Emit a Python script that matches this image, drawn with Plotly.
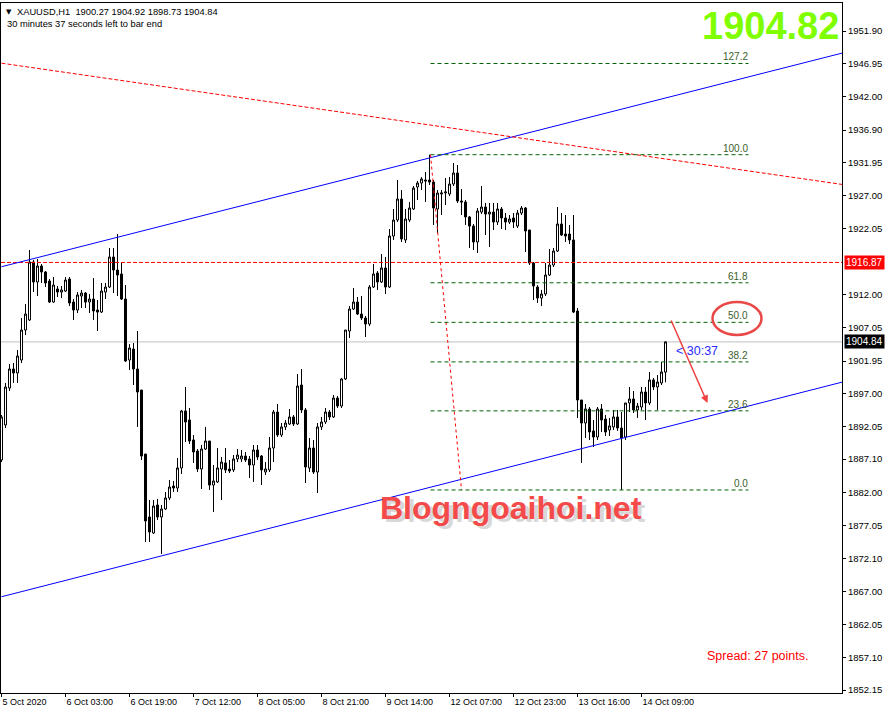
import plotly.graph_objects as go

# XAUUSD H1 bars, one slot per bar as the terminal lays them out (no weekend gap)
opens = [
    1886.97, 1892.27, 1897.87, 1900.74, 1900.14, 1902.10, 1906.64, 1908.16, 1916.93, 1913.91,
    1916.33, 1915.42, 1914.06, 1910.88, 1912.85, 1912.39, 1912.54, 1914.36, 1910.88, 1909.67,
    1911.79, 1912.24, 1910.88, 1911.33, 1909.67, 1909.36, 1912.39, 1913.15, 1917.69, 1915.72,
    1915.12, 1911.33, 1902.10, 1903.77, 1900.74, 1897.56, 1887.87, 1878.34, 1875.92, 1880.15,
    1878.34, 1879.55, 1881.22, 1883.03, 1882.73, 1885.76, 1894.39, 1893.02, 1890.00, 1888.33,
    1885.61, 1888.63, 1889.84, 1883.18, 1883.64, 1885.61, 1886.52, 1885.61, 1885.46, 1887.12,
    1887.12, 1887.57, 1887.12, 1886.21, 1888.48, 1887.57, 1885.15, 1885.46, 1888.78, 1894.23,
    1890.75, 1891.97, 1892.42, 1893.48, 1892.42, 1898.32, 1894.54, 1885.76, 1888.78, 1885.15,
    1891.97, 1892.72, 1894.23, 1893.48, 1896.35, 1895.14, 1899.23, 1906.49, 1909.82, 1910.88,
    1909.06, 1908.46, 1907.55, 1913.15, 1915.27, 1913.91, 1916.03, 1913.15, 1920.87, 1923.29,
    1926.47, 1920.27, 1923.29, 1924.96, 1928.29, 1928.89, 1929.35, 1929.35, 1929.04, 1924.96,
    1927.23, 1927.38, 1927.23, 1928.74, 1930.41, 1926.17, 1926.02, 1923.75, 1922.38, 1919.96,
    1924.50, 1925.26, 1924.20, 1924.50, 1922.99, 1924.96, 1923.60, 1922.99, 1923.60, 1922.38,
    1924.35, 1925.11, 1921.78, 1916.78, 1913.15, 1911.48, 1912.09, 1914.97, 1916.48, 1918.60,
    1922.69, 1921.17, 1921.17, 1920.27, 1909.52, 1896.05, 1892.57, 1894.69, 1891.36, 1890.45,
    1894.69, 1893.17, 1891.51, 1891.97, 1893.48, 1891.81, 1890.45, 1895.60, 1896.20, 1894.54,
    1894.99, 1897.26, 1895.60, 1899.08, 1898.02, 1898.63, 1900.27,
]
highs = [
    1893.78, 1898.63, 1901.50, 1901.65, 1903.62, 1908.46, 1910.57, 1918.75, 1917.24, 1917.39,
    1916.63, 1915.57, 1914.36, 1914.67, 1913.30, 1913.30, 1914.67, 1914.67, 1911.33, 1912.39,
    1912.70, 1912.39, 1912.09, 1914.51, 1911.18, 1913.76, 1913.76, 1919.05, 1919.05, 1921.17,
    1916.93, 1913.45, 1904.52, 1904.67, 1906.49, 1897.56, 1887.87, 1880.91, 1880.91, 1881.07,
    1880.15, 1882.13, 1883.94, 1883.79, 1887.27, 1894.54, 1898.02, 1894.84, 1890.75, 1888.63,
    1889.24, 1891.97, 1889.84, 1886.21, 1888.78, 1887.42, 1888.78, 1886.97, 1887.72, 1888.63,
    1888.48, 1888.18, 1887.57, 1889.24, 1889.24, 1887.72, 1886.66, 1890.45, 1894.54, 1895.44,
    1892.57, 1893.02, 1894.69, 1893.78, 1899.98, 1900.74, 1894.84, 1890.30, 1890.00, 1892.57,
    1893.48, 1894.84, 1894.54, 1896.81, 1896.66, 1899.38, 1906.64, 1910.27, 1913.00, 1911.64,
    1911.79, 1908.76, 1913.45, 1916.63, 1915.57, 1918.15, 1917.69, 1921.93, 1924.96, 1929.35,
    1927.83, 1924.96, 1926.02, 1928.44, 1929.20, 1929.80, 1930.56, 1933.18, 1929.35, 1927.83,
    1927.83, 1929.65, 1929.80, 1931.92, 1931.62, 1927.98, 1926.32, 1923.90, 1922.69, 1925.11,
    1928.44, 1925.87, 1925.87, 1925.87, 1925.87, 1925.26, 1924.35, 1924.05, 1924.35, 1924.81,
    1925.41, 1925.26, 1921.78, 1916.93, 1913.45, 1912.70, 1916.78, 1918.90, 1919.05, 1925.26,
    1924.35, 1924.05, 1922.54, 1924.05, 1909.97, 1896.05, 1895.44, 1894.99, 1893.02, 1894.99,
    1895.44, 1893.78, 1893.33, 1894.54, 1894.54, 1894.23, 1895.60, 1898.02, 1897.41, 1895.60,
    1898.02, 1898.02, 1900.29, 1899.38, 1899.83, 1901.80, 1904.92,
]
lows = [
    1886.66, 1891.81, 1897.41, 1898.63, 1898.63, 1901.65, 1905.88, 1908.01, 1912.39, 1911.79,
    1913.76, 1913.15, 1910.73, 1910.73, 1911.64, 1911.48, 1912.39, 1910.27, 1908.16, 1909.21,
    1909.97, 1909.97, 1909.21, 1908.16, 1906.49, 1909.21, 1911.33, 1913.00, 1912.24, 1911.79,
    1911.18, 1901.80, 1900.59, 1898.32, 1891.97, 1886.97, 1874.56, 1874.56, 1875.77, 1877.89,
    1872.74, 1879.40, 1880.91, 1882.13, 1882.13, 1884.85, 1889.69, 1889.39, 1886.52, 1885.15,
    1882.58, 1888.48, 1882.43, 1879.10, 1883.49, 1880.91, 1885.00, 1885.00, 1885.15, 1886.66,
    1886.66, 1886.66, 1884.24, 1883.64, 1886.97, 1883.18, 1884.70, 1885.15, 1886.66, 1890.45,
    1890.45, 1891.51, 1892.27, 1892.12, 1892.27, 1894.08, 1883.49, 1885.15, 1884.85, 1881.97,
    1891.51, 1892.42, 1893.02, 1893.33, 1894.84, 1894.84, 1899.08, 1905.43, 1909.67, 1908.91,
    1908.16, 1905.58, 1907.25, 1913.00, 1912.70, 1913.76, 1912.09, 1913.00, 1920.27, 1922.99,
    1919.96, 1919.81, 1922.99, 1924.81, 1926.32, 1927.83, 1926.02, 1928.59, 1922.54, 1921.33,
    1924.05, 1925.56, 1926.92, 1928.44, 1925.87, 1924.05, 1922.54, 1919.05, 1918.75, 1918.30,
    1924.20, 1921.02, 1919.21, 1921.78, 1922.54, 1921.93, 1921.78, 1922.69, 1922.08, 1922.08,
    1924.05, 1918.45, 1916.48, 1911.18, 1910.73, 1910.27, 1911.79, 1914.82, 1916.18, 1918.45,
    1920.87, 1919.96, 1919.66, 1909.21, 1893.33, 1886.52, 1890.30, 1890.00, 1888.93, 1890.00,
    1891.21, 1890.60, 1890.60, 1891.51, 1891.36, 1882.43, 1890.00, 1894.23, 1894.08, 1893.33,
    1894.54, 1893.02, 1895.29, 1897.56, 1894.54, 1898.32, 1898.73,
]
closes = [
    1893.48, 1898.02, 1900.74, 1900.14, 1902.71, 1906.64, 1909.06, 1916.93, 1913.91, 1916.33,
    1915.42, 1913.76, 1910.88, 1913.45, 1912.39, 1912.70, 1914.21, 1910.73, 1909.67, 1911.94,
    1912.24, 1910.88, 1911.33, 1909.52, 1909.36, 1912.54, 1913.15, 1917.69, 1915.72, 1914.97,
    1911.33, 1901.95, 1903.92, 1900.74, 1897.26, 1887.57, 1877.74, 1876.07, 1880.00, 1878.34,
    1879.55, 1881.22, 1882.88, 1882.73, 1885.76, 1894.39, 1892.72, 1889.84, 1888.18, 1885.61,
    1888.63, 1889.84, 1883.18, 1883.79, 1885.76, 1886.66, 1885.46, 1885.30, 1887.12, 1887.72,
    1887.57, 1886.97, 1886.21, 1888.48, 1887.42, 1885.46, 1885.61, 1888.78, 1894.23, 1890.75,
    1891.97, 1892.57, 1893.48, 1892.42, 1898.17, 1894.54, 1885.91, 1888.78, 1885.15, 1891.97,
    1892.72, 1894.23, 1893.48, 1896.35, 1895.14, 1899.23, 1906.64, 1909.82, 1910.88, 1909.06,
    1908.46, 1907.55, 1913.15, 1915.12, 1913.91, 1916.03, 1913.15, 1920.87, 1923.29, 1926.47,
    1920.42, 1923.44, 1925.11, 1928.13, 1928.89, 1929.50, 1929.20, 1929.04, 1925.11, 1927.38,
    1927.38, 1927.53, 1928.74, 1930.41, 1926.17, 1926.02, 1923.75, 1922.38, 1919.96, 1924.66,
    1925.26, 1924.20, 1924.50, 1922.99, 1924.96, 1923.60, 1922.99, 1923.44, 1922.99, 1924.35,
    1925.11, 1921.63, 1916.78, 1913.30, 1911.48, 1912.09, 1914.97, 1916.48, 1918.60, 1922.69,
    1921.02, 1920.87, 1920.27, 1909.36, 1896.05, 1892.57, 1894.69, 1891.21, 1890.45, 1894.69,
    1893.02, 1891.21, 1892.12, 1893.48, 1891.81, 1890.30, 1895.60, 1896.20, 1894.54, 1895.14,
    1897.26, 1895.60, 1899.08, 1898.02, 1898.77, 1900.29, 1904.84,
]
bars = list(range(len(opens)))

time_ticks = [0, 16, 32, 48, 64, 80, 96, 112, 128, 144, 160]
time_labels = ["5 Oct 2020", "6 Oct 03:00", "6 Oct 19:00", "7 Oct 12:00", "8 Oct 05:00",
               "8 Oct 21:00", "9 Oct 14:00", "12 Oct 07:00", "12 Oct 23:00",
               "13 Oct 16:00", "14 Oct 09:00"]
price_ticks = [1951.90, 1946.95, 1942.00, 1936.90, 1931.95, 1927.00, 1922.05, 1912.00,
               1907.05, 1901.95, 1897.00, 1892.05, 1887.10, 1882.00, 1877.05, 1872.10,
               1867.00, 1862.05, 1857.10, 1852.15]

# drawn objects, anchored as (bar, price)
channel_top = [(0, 1916.22), (210.25, 1948.57)]
channel_bottom = [(0, 1866.27), (210.25, 1898.77)]
falling_line = [(0, 1947.03), (210.25, 1928.67)]
fib_high = (107.25, 1933.18)
fib_low = (115.0, 1882.43)
fib_end = 186.75
fib_ratios = [1.272, 1.0, 0.618, 0.5, 0.382, 0.236, 0.0]
fib_labels = ["127.2", "100.0", "61.8", "50.0", "38.2", "23.6", "0.0"]
level_red = 1916.87
bid = 1904.84
big_quote = "1904.82"
arrow_from = (167.25, 1908.31)
arrow_to = (176.5, 1895.6)
ellipse_box = [(177.75, 1905.89), (190.0, 1910.88)]

FONT = "Liberation Sans, Arial, sans-serif"
FIB_LINE = "#006400"
FIB_TEXT = "#3b5e2b"

fig = go.Figure(
    go.Candlestick(
        x=bars, open=opens, high=highs, low=lows, close=closes,
        increasing=dict(line=dict(color="black", width=1), fillcolor="white"),
        decreasing=dict(line=dict(color="black", width=1), fillcolor="black"),
        whiskerwidth=0,
        name="XAUUSD",
    )
)

shapes = [
    dict(type="line", xref="paper", x0=0, x1=1, yref="y", y0=bid, y1=bid,
         line=dict(color="#c0c0c0", width=1), layer="below"),
    dict(type="line", xref="paper", x0=0, x1=1, yref="y", y0=level_red, y1=level_red,
         line=dict(color="red", width=1, dash="4px,2px")),
]
for pts, color, dash in ((channel_top, "blue", "solid"), (channel_bottom, "blue", "solid"),
                         (falling_line, "red", "4px,2px")):
    shapes.append(dict(type="line", xref="x", yref="y", x0=pts[0][0], y0=pts[0][1],
                       x1=pts[1][0], y1=pts[1][1], line=dict(color=color, width=1, dash=dash)))
shapes.append(dict(type="line", xref="x", yref="y", x0=fib_high[0], y0=fib_high[1],
                   x1=fib_low[0], y1=fib_low[1], line=dict(color="red", width=1, dash="3px,3px")))
fib_levels = [fib_low[1] + r * (fib_high[1] - fib_low[1]) for r in fib_ratios]
for lvl in fib_levels:
    shapes.append(dict(type="line", xref="x", yref="y", x0=fib_high[0], x1=fib_end, y0=lvl, y1=lvl,
                       line=dict(color=FIB_LINE, width=1, dash="4px,3px")))
shapes.append(dict(type="circle", xref="x", yref="y",
                   x0=ellipse_box[0][0], y0=ellipse_box[0][1], x1=ellipse_box[1][0], y1=ellipse_box[1][1],
                   line=dict(color="#e94848", width=2.5)))

annotations = []
for lvl, lab in zip(fib_levels, fib_labels):
    annotations.append(dict(x=fib_end, y=lvl, xref="x", yref="y", text=lab, showarrow=False,
                            xanchor="right", yanchor="bottom", yshift=0, borderpad=0,
                            font=dict(family=FONT, size=10, color=FIB_TEXT)))
for price, bg in ((level_red, "red"), (bid, "black")):
    annotations.append(dict(x=1, xref="paper", y=price, yref="y", text=f"{price:.2f}",
                            showarrow=False, xanchor="left", yanchor="middle", xshift=2,
                            bgcolor=bg, borderpad=1,
                            font=dict(family=FONT, size=10, color="white")))
annotations += [
    dict(x=arrow_to[0], y=arrow_to[1], ax=arrow_from[0], ay=arrow_from[1],
         xref="x", yref="y", axref="x", ayref="y", text="", showarrow=True,
         arrowhead=2, arrowsize=1, arrowwidth=1.5, arrowcolor="#ee4040"),
    dict(x=168, y=bid, xref="x", yref="y", text="< 30:37", showarrow=False,
         xanchor="left", yanchor="top", font=dict(family=FONT, size=12.5, color="#2a2aff")),
    dict(x=1, y=1, xref="paper", yref="paper", text=big_quote, showarrow=False,
         xanchor="right", yanchor="top", xshift=-1,
         font=dict(family=FONT, size=38, color="#7fff00", weight="bold")),
    dict(x=0.6086, y=0.239, xref="paper", yref="paper", text="Blogngoaihoi.net", showarrow=False,
         xshift=2, yshift=-3, font=dict(family=FONT, size=32, color="rgba(80,80,80,0.22)", weight="bold")),
    dict(x=0.6064, y=0.239, xref="paper", yref="paper", text="Blogngoaihoi.net", showarrow=False,
         font=dict(family=FONT, size=32, color="#f44a4a", weight="bold")),
    dict(x=0.837, y=0.0536, xref="paper", yref="paper", text="Spread: 27 points.", showarrow=False,
         xanchor="left", yanchor="middle", font=dict(family=FONT, size=12.5, color="red")),
    dict(x=0.0036, y=0.987, xref="paper", yref="paper", text="▼", showarrow=False,
         xanchor="left", yanchor="middle", font=dict(family="DejaVu Sans", size=7, color="black")),
    dict(x=0.0166, y=0.987, xref="paper", yref="paper",
         text="XAUUSD,H1  1900.27 1904.92 1898.73 1904.84", showarrow=False,
         xanchor="left", yanchor="middle", font=dict(family=FONT, size=9.3, color="black")),
    dict(x=0.0048, y=0.9696, xref="paper", yref="paper",
         text="30 minutes 37 seconds left to bar end", showarrow=False,
         xanchor="left", yanchor="middle", font=dict(family=FONT, size=9.3, color="black")),
]

fig.update_layout(
    width=889, height=716,
    margin=dict(l=1, r=47, t=3, b=23),
    paper_bgcolor="white", plot_bgcolor="white",
    showlegend=False,
    boxgap=0.5, boxgroupgap=0,
    font=dict(family=FONT, size=10, color="black"),
    shapes=shapes, annotations=annotations,
)
# range offset by an eighth of a bar so each candle sits on whole pixels
fig.update_xaxes(
    range=[-0.125, 210.125], rangeslider_visible=False,
    showgrid=False, zeroline=False,
    showline=True, linecolor="black", linewidth=1, mirror=True,
    ticks="outside", ticklen=3, tickcolor="black",
    tickvals=time_ticks, ticktext=time_labels, ticklabelposition="outside right",
    tickfont=dict(family=FONT, size=9, color="black"),
)
fig.update_yaxes(
    range=[1851.70, 1956.14], side="right",
    showgrid=False, zeroline=False,
    showline=True, linecolor="black", linewidth=1, mirror=True,
    ticks="outside", ticklen=3, tickcolor="black",
    tickvals=price_ticks, ticktext=[f"{v:.2f}" for v in price_ticks],
    tickfont=dict(family=FONT, size=9.5, color="black"),
)

fig.write_html("out.html", config={"displayModeBar": False},
               post_script="document.body.style.margin='0';")
